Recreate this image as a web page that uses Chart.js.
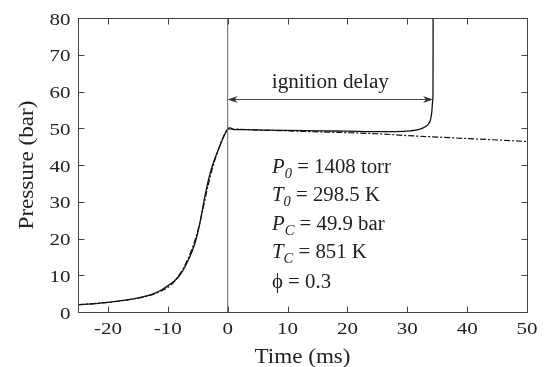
<!DOCTYPE html>
<html>
<head>
<meta charset="utf-8">
<script src="https://cdn.jsdelivr.net/npm/chart.js@4"></script>
<style>
  html, body { margin: 0; padding: 0; background: #fff; }
  #wrap { width: 548px; height: 367px; }
</style>
</head>
<body>
<div id="wrap"><canvas id="pressureChart" width="548" height="367"></canvas></div>
<script>
// Measured pressure trace (solid)
const solidTime = [-25, -22, -20, -18, -16, -14, -12, -10.5, -9, -8, -6.9, -5.5, -4.6, -3.8, -3, -2.2, -1.6, -0.9, -0.45, 0, 0.4, 1, 3, 6, 10, 15, 20, 25, 28, 30.5, 32, 33, 33.6, 33.9, 34.1, 34.25, 34.3, 34.32];
const solidPressure = [2.0, 2.3, 2.6, 3.0, 3.5, 4.2, 5.2, 6.6, 8.3, 10.0, 13.0, 18.5, 24.5, 31.5, 37.3, 41.5, 44.0, 46.8, 48.5, 49.8, 50.1, 49.6, 49.6, 49.5, 49.4, 49.3, 49.2, 49.1, 49.1, 49.3, 49.7, 50.4, 51.3, 52.5, 54.5, 57.5, 60, 85];

// Non-reactive model trace (dash-dot)
const modelTime = [-25, -20, -16, -13, -11, -9.5, -8, -7, -6, -5, -4.2, -3.4, -2.6, -1.8, -1, -0.4, 0, 0.5, 5, 10, 15, 20, 25, 30, 35, 40, 45, 50];
const modelPressure = [2.0, 2.6, 3.5, 4.5, 5.8, 7.3, 10.3, 13.2, 17.0, 22.0, 27.5, 33.5, 38.8, 43.0, 46.6, 48.7, 49.6, 49.8, 49.5, 49.3, 49.0, 48.8, 48.5, 48.0, 47.6, 47.2, 46.8, 46.4];

// End of compression marker
const eocTime = [0, 0];
const eocPressure = [0, 80];

// Ignition delay arrow
const delayStart = 0;
const delayEnd = 34.3;
const delayPressure = 58;
const delayLabel = 'ignition delay';

// Axis ticks and titles
const xTicks = [-20, -10, 0, 10, 20, 30, 40, 50];
const yTicks = [0, 10, 20, 30, 40, 50, 60, 70, 80];
const xTitle = 'Time (ms)';
const yTitle = 'Pressure (bar)';

// Conditions text: [symbol, subscript, rest]
const paramLines = [
    ['P', '0', ' = 1408 torr'],
    ['T', '0', ' = 298.5 K'],
    ['P', 'C', ' = 49.9 bar'],
    ['T', 'C', ' = 851 K'],
    ['\u03D5', '', ' = 0.3']
];

const SERIF = '"Liberation Serif", "Times New Roman", serif';

function toPoints(xs, ys) {
    return xs.map((x, i) => ({ x: x, y: ys[i] }));
}

// Draw text with a horizontal stretch factor
function stretchText(ctx, str, x, y, font, align, sx) {
    ctx.save();
    ctx.font = font;
    const w = ctx.measureText(str).width * sx;
    let x0 = x;
    if (align === 'center') x0 = x - w / 2;
    if (align === 'right') x0 = x - w;
    ctx.translate(x0, y);
    ctx.scale(sx, 1);
    ctx.textAlign = 'left';
    ctx.textBaseline = 'alphabetic';
    ctx.fillText(str, 0, 0);
    ctx.restore();
    return w;
}

const decorPlugin = {
    id: 'decor',
    afterDatasetsDraw(chart) {
        const ctx = chart.ctx;
        const area = chart.chartArea;
        const xs = chart.scales.x;
        const ys = chart.scales.y;
        const L = Math.round(area.left) + 0.5;
        const R = Math.round(area.right) + 0.5;
        const T = Math.round(area.top) + 0.5;
        const B = Math.round(area.bottom) + 0.5;

        ctx.save();
        // frame
        ctx.strokeStyle = '#444';
        ctx.lineWidth = 1;
        ctx.strokeRect(L, T, R - L, B - T);

        // inward ticks on all four sides
        const tl = 6;
        ctx.beginPath();
        xTicks.forEach(v => {
            const px = Math.round(xs.getPixelForValue(v)) + 0.5;
            ctx.moveTo(px, B); ctx.lineTo(px, B - tl);
            ctx.moveTo(px, T); ctx.lineTo(px, T + tl);
        });
        yTicks.forEach(v => {
            const py = Math.round(ys.getPixelForValue(v)) + 0.5;
            ctx.moveTo(L, py); ctx.lineTo(L + tl, py);
            ctx.moveTo(R, py); ctx.lineTo(R - tl, py);
        });
        ctx.stroke();

        // tick labels
        ctx.fillStyle = '#222';
        const tickFont = '17.5px ' + SERIF;
        xTicks.forEach(v => {
            stretchText(ctx, String(v), xs.getPixelForValue(v), B + 21, tickFont, 'center', 1.2);
        });
        yTicks.forEach(v => {
            stretchText(ctx, String(v), L - 8, ys.getPixelForValue(v) + 6.5, tickFont, 'right', 1.2);
        });

        // axis titles
        const titleFont = '21px ' + SERIF;
        stretchText(ctx, xTitle, (area.left + area.right) / 2, 363, titleFont, 'center', 1.1);
        ctx.save();
        ctx.translate(33, (area.top + area.bottom) / 2);
        ctx.rotate(-Math.PI / 2);
        stretchText(ctx, yTitle, 0, 0, titleFont, 'center', 1.1);
        ctx.restore();

        // ignition delay arrow
        const ax0 = xs.getPixelForValue(delayStart);
        const ax1 = xs.getPixelForValue(delayEnd);
        const ay = Math.round(ys.getPixelForValue(delayPressure)) + 0.5;
        ctx.strokeStyle = '#444';
        ctx.beginPath();
        ctx.moveTo(ax0 + 2, ay);
        ctx.lineTo(ax1 - 2, ay);
        ctx.stroke();
        ctx.fillStyle = '#333';
        [[ax0, 1], [ax1, -1]].forEach(([tip, dir]) => {
            ctx.beginPath();
            ctx.moveTo(tip, ay);
            ctx.lineTo(tip + dir * 10, ay - 3.5);
            ctx.lineTo(tip + dir * 7, ay);
            ctx.lineTo(tip + dir * 10, ay + 3.5);
            ctx.closePath();
            ctx.fill();
        });
        ctx.fillStyle = '#222';
        stretchText(ctx, delayLabel, (ax0 + ax1) / 2, ys.getPixelForValue(61), '20px ' + SERIF, 'center', 1.06);

        // conditions block
        const bx = xs.getPixelForValue(7.4);
        const by0 = ys.getPixelForValue(37.8);
        paramLines.forEach((line, i) => {
            const by = by0 + i * 28.4 + (i === 4 ? 1.5 : 0);
            let x = bx;
            if (line[1]) {
                x += stretchText(ctx, line[0], x, by, 'italic 20px ' + SERIF, 'left', 1.04);
                x += stretchText(ctx, line[1], x, by + 5, 'italic 14px ' + SERIF, 'left', 1.04);
            } else {
                x += stretchText(ctx, line[0], x, by, '20px ' + SERIF, 'left', 1.04);
            }
            stretchText(ctx, line[2], x, by, '20px ' + SERIF, 'left', 1.04);
        });
        ctx.restore();
    }
};

const chart = new Chart(document.getElementById('pressureChart'), {
    type: 'line',
    data: {
        datasets: [
            {
                label: 'EOC',
                data: toPoints(eocTime, eocPressure),
                borderColor: '#666',
                borderWidth: 1,
                pointRadius: 0
            },
            {
                label: 'Model',
                data: toPoints(modelTime, modelPressure),
                borderColor: '#111',
                borderWidth: 1.2,
                borderDash: [6, 2, 2, 2],
                pointRadius: 0,
                cubicInterpolationMode: 'monotone'
            },
            {
                label: 'Experiment',
                data: toPoints(solidTime, solidPressure),
                borderColor: '#111',
                borderWidth: 1.3,
                pointRadius: 0,
                cubicInterpolationMode: 'monotone'
            }
        ]
    },
    options: {
        responsive: false,
        animation: false,
        devicePixelRatio: 1,
        layout: { padding: { top: 18, right: 21, left: 0, bottom: 0 } },
        plugins: {
            legend: { display: false },
            tooltip: { enabled: false }
        },
        scales: {
            x: {
                type: 'linear',
                min: -25,
                max: 50,
                grid: { display: false },
                border: { display: false },
                ticks: { display: false },
                afterBuildTicks: (scale) => { scale.ticks = xTicks.map(v => ({ value: v })); },
                afterFit: (scale) => { scale.height = 55; }
            },
            y: {
                type: 'linear',
                min: 0,
                max: 80,
                grid: { display: false },
                border: { display: false },
                ticks: { display: false },
                afterBuildTicks: (scale) => { scale.ticks = yTicks.map(v => ({ value: v })); },
                afterFit: (scale) => { scale.width = 78; }
            }
        }
    },
    plugins: [decorPlugin]
});
</script>
</body>
</html>
